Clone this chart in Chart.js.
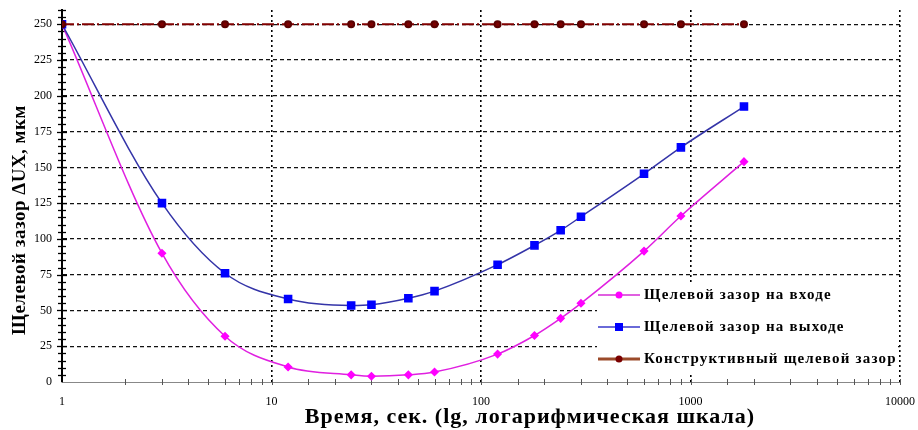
<!DOCTYPE html>
<html><head><meta charset="utf-8">
<script src="https://cdn.jsdelivr.net/npm/chart.js@4/dist/chart.umd.min.js"></script>
<style>html,body{margin:0;padding:0;background:#fff}#wrap{width:918px;height:430px;position:relative}</style>
</head><body><div id="wrap"><canvas id="c"></canvas></div>
<script>
// ---- data ----
const times = [1, 3, 6, 12, 24, 30, 45, 60, 120, 180, 240, 300, 600, 900, 1800];
const gapInlet = [250, 90, 32, 10.5, 5, 4, 5, 7, 19.5, 32.5, 44.5, 55, 91.5, 116, 154];
const gapOutlet = [250, 125, 76, 58, 53.5, 54, 58.5, 63.5, 82, 95.5, 106, 115.5, 145.5, 164, 192.5];
const gapDesign = [250, 250, 250, 250, 250, 250, 250, 250, 250, 250, 250, 250, 250, 250, 250];
const seriesLabels = ['Щелевой зазор на входе', 'Щелевой зазор на выходе', 'Конструктивный щелевой зазор'];
const xTickLabels = [1, 10, 100, 1000, 10000];
const yTickLabels = [0, 25, 50, 75, 100, 125, 150, 175, 200, 225, 250];
const xTitle = 'Время, сек. (lg, логарифмическая шкала)';
const yTitle = 'Щелевой зазор ΔUX, мкм';

const pts = arr => times.map((t, i) => ({x: t, y: arr[i]}));
const SERIF = "'Liberation Serif', 'DejaVu Serif', serif";

const legendSamples = [
  {line: '#e060e0', width: 2, marker: 'circle', fill: '#ff00ff', r: 3.5},
  {line: '#6a6ad8', width: 2, marker: 'rect', fill: '#0000ff', r: 4},
  {line: '#9b4a2a', width: 3, marker: 'circle', fill: '#7a0000', r: 3.5}
];

const decorPlugin = {
  id: 'decor',
  beforeDatasetsDraw(chart) {
    const ctx = chart.ctx, a = chart.chartArea;
    const xs = chart.scales.x, ys = chart.scales.y;
    ctx.save();
    // y axis crossing ticks
    ctx.strokeStyle = '#000'; ctx.lineWidth = 1.3;
    ys.ticks.forEach(t => {
      if (t.value === 0) return;
      const py = Math.round(ys.getPixelForValue(t.value)) + 0.5;
      const len = t.value % 25 === 0 ? 5 : 4;
      ctx.beginPath(); ctx.moveTo(a.left - len, py); ctx.lineTo(a.left + len, py); ctx.stroke();
    });
    // x axis crossing ticks
    ctx.strokeStyle = '#555'; ctx.lineWidth = 1;
    xs.ticks.forEach(t => {
      if (t.value === 1) return;
      const px = Math.round(xs.getPixelForValue(t.value)) + 0.5;
      ctx.beginPath(); ctx.moveTo(px, a.bottom - 3); ctx.lineTo(px, a.bottom + 3); ctx.stroke();
    });
    // legend background box
    ctx.fillStyle = '#fff';
    ctx.fillRect(597, 282, 301, 93);
    ctx.restore();
  },
  afterDatasetsDraw(chart) {
    const ctx = chart.ctx;
    ctx.save();
    const rows = [295, 327, 359];
    chart.data.datasets.forEach((ds, i) => {
      const s = legendSamples[i], y = rows[i];
      ctx.strokeStyle = s.line; ctx.lineWidth = s.width; ctx.setLineDash([]);
      ctx.beginPath(); ctx.moveTo(598, y); ctx.lineTo(640, y); ctx.stroke();
      ctx.fillStyle = s.fill;
      if (s.marker === 'rect') ctx.fillRect(619 - s.r, y - s.r, 2 * s.r, 2 * s.r);
      else { ctx.beginPath(); ctx.arc(619, y, s.r, 0, Math.PI * 2); ctx.fill(); }
      ctx.fillStyle = '#000';
      ctx.font = 'bold 15px ' + SERIF;
      ctx.letterSpacing = '1.2px';
      ctx.textAlign = 'left'; ctx.textBaseline = 'middle';
      ctx.fillText(ds.label, 644, y);
    });
    ctx.restore();
  },
  afterDraw(chart) {
    const ctx = chart.ctx;
    ctx.save();
    ctx.fillStyle = '#000';
    ctx.textAlign = 'center'; ctx.textBaseline = 'middle';
    ctx.font = 'bold 22px ' + SERIF;
    ctx.letterSpacing = '1px';
    ctx.fillText(xTitle, 530, 417);
    ctx.translate(20, 220); ctx.rotate(-Math.PI / 2);
    ctx.font = 'bold 19px ' + SERIF;
    ctx.letterSpacing = '0.5px';
    ctx.fillText(yTitle, 0, 0);
    ctx.restore();
  }
};

new Chart(document.getElementById('c'), {
  type: 'line',
  data: {
    datasets: [
      {label: seriesLabels[0], data: pts(gapInlet), borderColor: '#e020e0', borderWidth: 1.5,
       pointStyle: 'rectRot', pointRadius: 3.5, pointBackgroundColor: '#ff00ff', pointBorderColor: '#ff00ff',
       cubicInterpolationMode: 'monotone', order: 2},
      {label: seriesLabels[1], data: pts(gapOutlet), borderColor: '#3434a8', borderWidth: 1.5,
       pointStyle: 'rect', pointRadius: 5, pointBackgroundColor: '#0000ff', pointBorderColor: '#0000ff',
       cubicInterpolationMode: 'monotone', order: 1},
      {label: seriesLabels[2], data: pts(gapDesign), borderColor: '#800000', borderWidth: 2,
       borderDash: [12, 3, 2, 3],
       pointStyle: 'circle', pointRadius: 3, pointBackgroundColor: '#7a0000', pointBorderColor: '#5a0000',
       tension: 0, order: 0}
    ]
  },
  options: {
    responsive: true, maintainAspectRatio: false, animation: false,
    layout: {padding: {left: 0, right: 18, top: 10, bottom: 0}},
    plugins: {legend: {display: false}, tooltip: {enabled: false}},
    scales: {
      x: {
        type: 'logarithmic', min: 1, max: 10000,
        afterFit: s => { s.height = 48; s.paddingLeft = 0; s.paddingRight = 0; },
        border: {display: true, color: '#888', width: 1, dash: [2, 3]},
        grid: {drawTicks: false, lineWidth: 1.6,
               color: c => { const v = c.tick && c.tick.value; return (v > 1 && xTickLabels.includes(v)) ? '#000' : 'rgba(0,0,0,0)'; }},
        ticks: {autoSkip: false, maxRotation: 0, padding: 13, color: '#000',
                font: {family: SERIF, size: 12},
                callback: v => xTickLabels.includes(v) ? String(v) : ''}
      },
      y: {
        type: 'linear', min: 0, max: 260,
        afterFit: s => { s.width = 62; s.paddingTop = 0; s.paddingBottom = 0; },
        border: {display: true, color: '#000', width: 2, dash: [4, 3]},
        grid: {drawTicks: false, lineWidth: 1.2,
               color: c => { const v = c.tick && c.tick.value; return (v > 0 && yTickLabels.includes(v)) ? '#111' : 'rgba(0,0,0,0)'; }},
        ticks: {autoSkip: false, stepSize: 5, padding: 10, color: '#000',
                font: {family: SERIF, size: 12},
                callback: v => yTickLabels.includes(v) ? String(v) : ''}
      }
    }
  },
  plugins: [decorPlugin]
});
</script></body></html>
